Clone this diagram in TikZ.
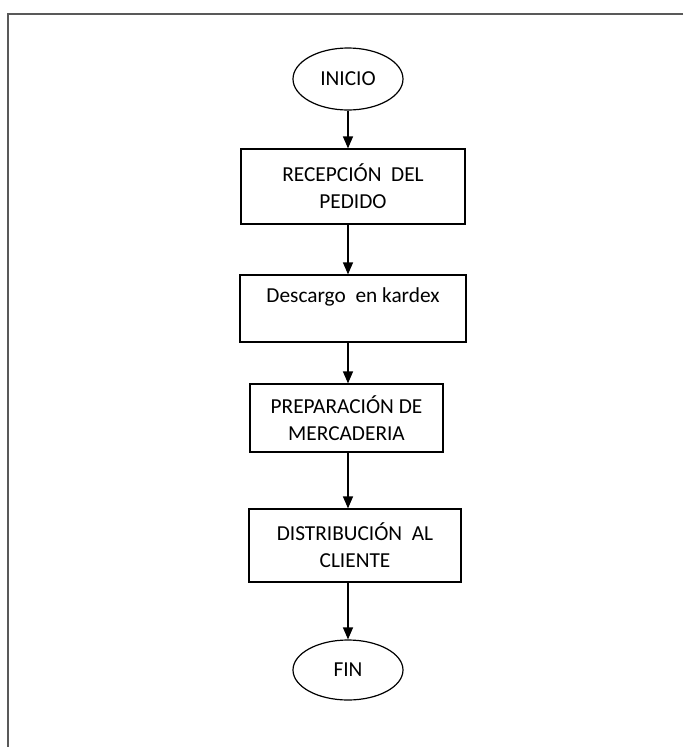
\documentclass[tikz,border=0pt]{standalone}
\usepackage{fontspec}
\setmainfont{Carlito}
\usetikzlibrary{shapes.geometric, arrows.meta, positioning}

\tikzset{
    terminal/.style={ellipse, draw, line width=0.9pt, minimum width=82.5pt, inner sep=0pt},
    proceso/.style={rectangle, draw, line width=0.9pt, align=center, inner sep=0pt},
    flecha/.style={-{Triangle[length=9pt,width=7.5pt]}, line width=0.9pt},
}

\begin{document}
\begin{tikzpicture}[x=0.75pt, y=-0.75pt, font=\fontsize{16}{20.25}\selectfont]
    \useasboundingbox (0,0) rectangle (683,747);
    % marco
    \draw[line width=1.5pt, black!65] (683,14) -- (8,14) -- (8,747);

    % nodos
    \node[terminal, minimum height=46.5pt] (inicio) at (348,79) {INICIO};
    \node[proceso, minimum width=168pt, minimum height=56.25pt] (recepcion) at (353,186.5) {RECEPCIÓN~~DEL\\PEDIDO};
    \node[proceso, minimum width=169.5pt, minimum height=50.25pt] (descargo) at (353,308.5) {Descargo~~en kardex\\~};
    \node[proceso, minimum width=144.75pt, minimum height=51pt] (preparacion) at (346.5,418) {PREPARACIÓN DE\\MERCADERIA};
    \node[proceso, minimum width=159pt, minimum height=54.75pt] (distribucion) at (355,545.5) {DISTRIBUCIÓN~~AL\\CLIENTE};
    \node[terminal, minimum height=45pt] (fin) at (348,670) {FIN};

    % flechas
    \draw[flecha] (inicio.south) -- (inicio.south |- recepcion.north);
    \draw[flecha] (inicio.south |- recepcion.south) -- (inicio.south |- descargo.north);
    \draw[flecha] (inicio.south |- descargo.south) -- (inicio.south |- preparacion.north);
    \draw[flecha] (inicio.south |- preparacion.south) -- (inicio.south |- distribucion.north);
    \draw[flecha] (inicio.south |- distribucion.south) -- (fin.north);
\end{tikzpicture}
\end{document}
